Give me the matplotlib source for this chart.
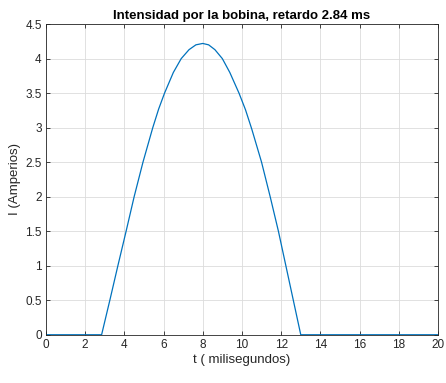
import matplotlib
matplotlib.use('Agg')
import matplotlib.pyplot as plt

plt.rcParams['font.family'] = ['Liberation Sans', 'DejaVu Sans']

# datos (t en ms, I en A)
t_ms = [0, 2.84, 3.26, 3.67, 4.09, 4.5, 4.95, 5.45, 5.75, 6.05, 6.5, 6.9, 7.3,
        7.65, 8.0, 8.3, 8.62, 9.0, 9.38, 9.85, 10.18, 10.5, 11.0, 11.44, 11.86,
        12.24, 12.62, 13.0, 20]
I_amp = [0, 0, 0.5, 1.0, 1.5, 2.0, 2.5, 3.0, 3.27, 3.5, 3.8, 4.0, 4.13,
         4.2, 4.22, 4.2, 4.13, 4.0, 3.8, 3.5, 3.26, 2.98, 2.5, 2.0, 1.5,
         1.0, 0.5, 0, 0]

xticks = list(range(0, 21, 2))
yticks = [0, 0.5, 1, 1.5, 2, 2.5, 3, 3.5, 4, 4.5]

fig = plt.figure(figsize=(4.46, 3.83), dpi=100)
ax = fig.add_axes([0.103, 0.126, 0.879, 0.811])
ax.plot(t_ms, I_amp, color='#0072BD', linewidth=0.9)

ax.set_xlim(0, 20)
ax.set_ylim(0, 4.5)
ax.set_xticks(xticks)
ax.set_yticks(yticks)
ax.set_yticklabels(['0', '0.5', '1', '1.5', '2', '2.5', '3', '3.5', '4', '4.5'])
ax.grid(True, color='#dcdcdc', linewidth=0.6)
ax.set_axisbelow(True)
ax.tick_params(direction='in', top=True, right=True, labelsize=8.5,
               colors='#262626', length=3, width=0.6, pad=3)
for s in ax.spines.values():
    s.set_color('#262626')
    s.set_linewidth(0.6)

ax.set_title('Intensidad por la bobina, retardo 2.84 ms', fontsize=9.5,
             fontweight='bold', pad=4)
ax.set_xlabel('t ( milisegundos)', fontsize=9.5, color='#262626', labelpad=2)
ax.set_ylabel('I (Amperios)', fontsize=9.5, color='#262626', labelpad=3)

fig.savefig('out.png', dpi=100)
